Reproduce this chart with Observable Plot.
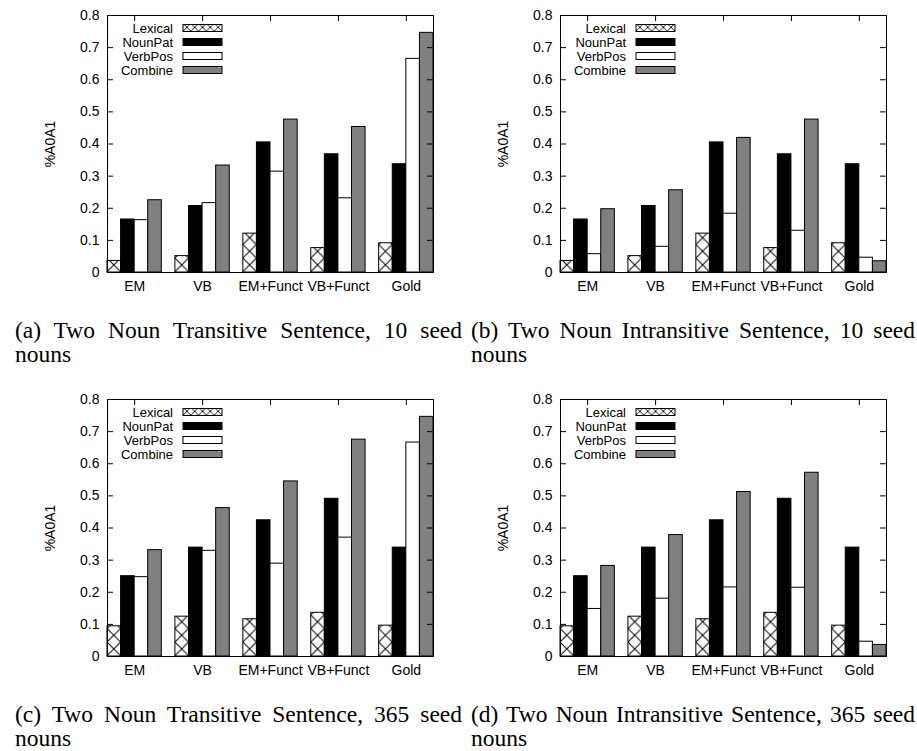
<!DOCTYPE html>
<html><head><meta charset="utf-8">
<script src="https://cdn.jsdelivr.net/npm/d3@7"></script>
<script src="https://cdn.jsdelivr.net/npm/@observablehq/plot@0.6"></script>
<style>
body{margin:0;background:#fff;}
#wrap{position:relative;width:917px;height:751px;overflow:hidden;background:#fff;}
.panel{position:absolute;}
.cap{position:absolute;font-family:"Liberation Serif","Times New Roman",serif;font-size:23.5px;line-height:24px;text-align:justify;color:#000;}
</style></head><body>
<svg width="0" height="0" style="position:absolute">
<defs>
<pattern id="hatch" patternUnits="userSpaceOnUse" x="107" y="0" width="13.583" height="13.583">
<rect width="13.583" height="13.583" fill="#fff"/>
<path d="M0,0L13.583,13.583M13.583,0L0,13.583" stroke="#000" stroke-width="1" fill="none"/>
</pattern>
<pattern id="hatchL" patternUnits="userSpaceOnUse" x="183" y="0" width="7.8" height="7.8">
<rect width="7.8" height="7.8" fill="#fff"/>
<path d="M0,0L7.8,7.8M7.8,0L0,7.8" stroke="#000" stroke-width="0.9" fill="none"/>
</pattern>
</defs>
</svg>
<div id="wrap"></div>
<script>
const groups = ["EM", "VB", "EM+Funct", "VB+Funct", "Gold"];
const series = ["Lexical", "NounPat", "VerbPos", "Combine"];
const yTicks = [0, 0.1, 0.2, 0.3, 0.4, 0.5, 0.6, 0.7, 0.8];

// (a) Two Noun Transitive Sentence, 10 seed nouns
const aLexical = [0.036, 0.051, 0.121, 0.076, 0.091];
const aNounPat = [0.165, 0.207, 0.405, 0.368, 0.337];
const aVerbPos = [0.163, 0.216, 0.314, 0.231, 0.665];
const aCombine = [0.225, 0.333, 0.476, 0.453, 0.746];
// (b) Two Noun Intransitive Sentence, 10 seed nouns
const bLexical = [0.036, 0.051, 0.121, 0.076, 0.091];
const bNounPat = [0.165, 0.207, 0.405, 0.368, 0.337];
const bVerbPos = [0.057, 0.080, 0.183, 0.130, 0.046];
const bCombine = [0.197, 0.256, 0.419, 0.476, 0.035];
// (c) Two Noun Transitive Sentence, 365 seed nouns
const cLexical = [0.094, 0.124, 0.116, 0.136, 0.096];
const cNounPat = [0.250, 0.339, 0.424, 0.491, 0.339];
const cVerbPos = [0.247, 0.329, 0.289, 0.370, 0.666];
const cCombine = [0.331, 0.462, 0.545, 0.675, 0.746];
// (d) Two Noun Intransitive Sentence, 365 seed nouns
const dLexical = [0.094, 0.124, 0.116, 0.136, 0.096];
const dNounPat = [0.250, 0.339, 0.424, 0.491, 0.339];
const dVerbPos = [0.148, 0.180, 0.215, 0.214, 0.046];
const dCombine = [0.282, 0.378, 0.512, 0.572, 0.036];

const captions = [
  "(a) Two Noun Transitive Sentence, 10 seed nouns",
  "(b) Two Noun Intransitive Sentence, 10 seed nouns",
  "(c) Two Noun Transitive Sentence, 365 seed nouns",
  "(d) Two Noun Intransitive Sentence, 365 seed nouns"
];

const fills = {Lexical: "url(#hatch)", NounPat: "#000", VerbPos: "#fff", Combine: "#808080"};
const legendFills = {Lexical: "url(#hatchL)", NounPat: "#000", VerbPos: "#fff", Combine: "#808080"};

const ML = 107, MT = 15, W = 458, H = 300, MR = 25, MB = 28;
const perGroup = series.length + 1;
const nSlots = groups.length * perGroup - 1;
const centers = groups.map((g, i) => i * perGroup + (series.length) / 2);
const tickPx = 6;

function makePanel(vals) {
  const rows = [];
  groups.forEach((g, gi) => series.forEach((s, si) => rows.push({g, s, gi, si, v: vals[si][gi]})));
  const slot = d => d.gi * perGroup + d.si;
  const xPerPx = nSlots / (W - ML - MR);
  const yPerPx = 0.8 / (H - MT - MB);
  const legend = () => {
    const g = d3.create("svg:g")
      .attr("font-family", "'Liberation Sans', Arial, sans-serif")
      .attr("font-size", 13);
    series.forEach((s, i) => {
      const y = MT + 13 + i * 14;
      g.append("text").attr("x", ML + 66).attr("y", y).attr("dy", "0.35em")
        .attr("text-anchor", "end").attr("fill", "#000").text(s);
      g.append("rect").attr("x", ML + 76).attr("y", y - 3.5).attr("width", 39).attr("height", 7)
        .attr("fill", legendFills[s]).attr("stroke", "#000").attr("stroke-width", 1);
    });
    return g.node();
  };
  return Plot.plot({
    width: W, height: H,
    marginLeft: ML, marginRight: MR, marginTop: MT, marginBottom: MB,
    style: {fontFamily: "'Liberation Sans', Arial, sans-serif", fontSize: "14px", color: "#000", background: "#fff"},
    x: {domain: [0, nSlots]},
    y: {domain: [0, 0.8]},
    marks: [
      ...series.map(s => Plot.rectY(rows.filter(d => d.s === s), {
        x1: d => slot(d), x2: d => slot(d) + 1, y1: 0, y2: "v",
        fill: fills[s], stroke: "#000", strokeWidth: 1
      })),
      Plot.ruleY(yTicks, {y: d => d, x1: 0, x2: tickPx * xPerPx, stroke: "#000"}),
      Plot.ruleY(yTicks, {y: d => d, x1: nSlots - tickPx * xPerPx, x2: nSlots, stroke: "#000"}),
      Plot.ruleX(centers, {x: d => d, y1: 0.8 - tickPx * yPerPx, y2: 0.8, stroke: "#000"}),
      Plot.frame({stroke: "#000", strokeWidth: 1}),
      Plot.axisY(yTicks, {tickSize: 0, tickPadding: 8, label: null,
        tickFormat: d => d === 0 ? "0" : d3.format(".1f")(d)}),
      Plot.axisX(centers, {tickSize: 0, tickPadding: 9, label: null,
        tickFormat: d => groups[centers.indexOf(d)]}),
      Plot.text(["%A0A1"], {frameAnchor: "left", textAnchor: "middle", dx: -57, rotate: -90, fontSize: 14, fill: "#000"}),
      legend
    ]
  });
}

const panels = [
  {vals: [aLexical, aNounPat, aVerbPos, aCombine], left: 0, top: 0},
  {vals: [bLexical, bNounPat, bVerbPos, bCombine], left: 453, top: 0},
  {vals: [cLexical, cNounPat, cVerbPos, cCombine], left: 0, top: 384},
  {vals: [dLexical, dNounPat, dVerbPos, dCombine], left: 453, top: 384}
];
const capPos = [{left: 15, top: 318, w: 447}, {left: 471, top: 318, w: 444}, {left: 15, top: 702, w: 447}, {left: 471, top: 702, w: 444}];

const wrap = document.getElementById("wrap");
panels.forEach((p, i) => {
  const div = document.createElement("div");
  div.className = "panel";
  div.style.left = p.left + "px";
  div.style.top = p.top + "px";
  div.appendChild(makePanel(p.vals));
  wrap.appendChild(div);
  const cap = document.createElement("div");
  cap.className = "cap";
  cap.style.left = capPos[i].left + "px";
  cap.style.top = capPos[i].top + "px";
  cap.style.width = capPos[i].w + "px";
  cap.textContent = captions[i];
  wrap.appendChild(cap);
});
</script>
</body></html>
